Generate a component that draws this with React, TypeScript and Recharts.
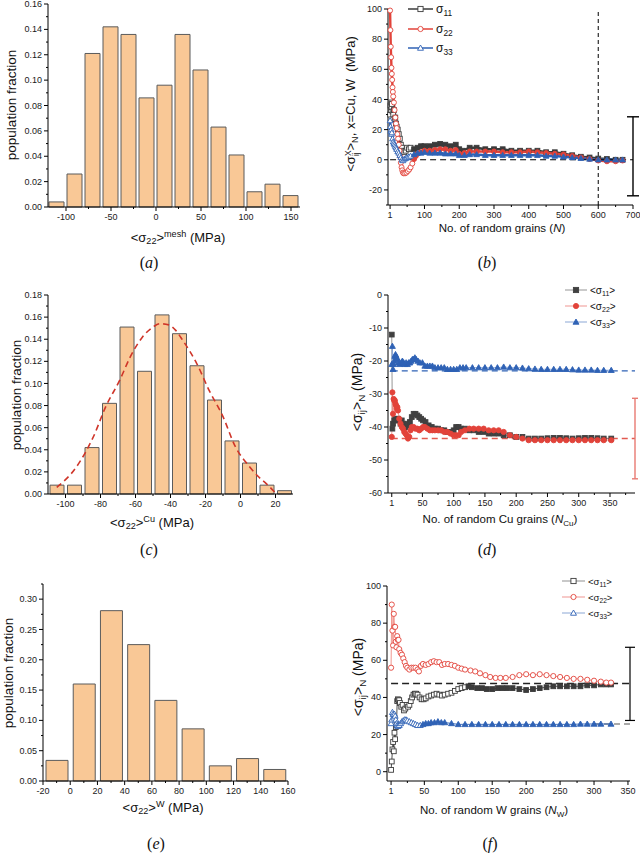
import React from 'react';
import {
  ComposedChart, Bar, Line, XAxis, YAxis, ReferenceLine, Scatter, ErrorBar,
} from 'recharts';

const SANS = '"Liberation Sans", Arial, sans-serif';
const SERIF = '"Liberation Serif", "Times New Roman", serif';
const BAR_FILL = '#f9c896';
const BAR_EDGE = '#5b5b5b';
const C11 = '#3b3b3b';
const C22 = '#e2433a';
const C33 = '#2f62b5';

// ---- (a) histogram of <s22>^mesh
const binsA = [-110, -90, -70, -50, -30, -10, 10, 30, 50, 70, 90, 110, 130, 150];
const fracA = [0.004, 0.026, 0.121, 0.142, 0.136, 0.086, 0.096, 0.136, 0.108, 0.063, 0.041, 0.012, 0.018, 0.009];
const xTicksA = [-100, -50, 0, 50, 100, 150];
const xMinorA = [-75, -25, 25, 75, 125];
const yTicksA = [0, 0.02, 0.04, 0.06, 0.08, 0.1, 0.12, 0.14, 0.16];
const yMinorA = [0.01, 0.03, 0.05, 0.07, 0.09, 0.11, 0.13, 0.15];

// ---- (c) histogram of <s22>^Cu with fitted curve
const binsC = [-105, -95, -85, -75, -65, -55, -45, -35, -25, -15, -5, 5, 15, 25];
const fracC = [0.008, 0.008, 0.042, 0.082, 0.151, 0.111, 0.162, 0.145, 0.116, 0.085, 0.048, 0.028, 0.008, 0.003];
const fitXC = [-105, -94, -84, -77, -69, -63, -56, -50, -46, -41, -37, -33, -25, -18, -10, -3, 5, 10, 15, 20];
const fitYC = [0.006, 0.024, 0.052, 0.079, 0.103, 0.124, 0.142, 0.151, 0.154, 0.153, 0.148, 0.139, 0.118, 0.094, 0.07, 0.043, 0.025, 0.016, 0.009, 0.001];
const xTicksC = [-100, -80, -60, -40, -20, 0, 20];
const xMinorC = [-90, -70, -50, -30, -10, 10];
const yTicksC = [0, 0.02, 0.04, 0.06, 0.08, 0.1, 0.12, 0.14, 0.16, 0.18];
const yMinorC = [0.01, 0.03, 0.05, 0.07, 0.09, 0.11, 0.13, 0.15, 0.17];

// ---- (e) histogram of <s22>^W
const binsE = [-10, 10, 30, 50, 70, 90, 110, 130, 150];
const fracE = [0.034, 0.16, 0.281, 0.225, 0.133, 0.086, 0.025, 0.037, 0.019];
const xTicksE = [-20, 0, 20, 40, 60, 80, 100, 120, 140, 160];
const xMinorE = [-10, 10, 30, 50, 70, 90, 110, 130, 150];
const yTicksE = [0, 0.05, 0.1, 0.15, 0.2, 0.25, 0.3];
const yMinorE = [0.025, 0.075, 0.125, 0.175, 0.225, 0.275, 0.325];

// ---- (b) running averages vs number of random grains
const bN11 = [1, 2, 3, 4, 5, 6, 8, 10, 12, 14, 16, 18, 20, 23, 26, 29, 32, 35, 38, 42, 46, 50, 55, 60, 70, 80, 90, 100, 115, 130, 145, 160, 175, 190, 200, 210, 230, 250, 275, 300, 325, 350, 375, 400, 425, 450, 475, 500, 525, 550, 575, 600, 625, 650, 670];
const bV11 = [30, 36, 33, 38, 35, 37, 32, 30, 33, 27, 28, 24, 22, 20, 17, 14, 10, 8, 6, 5, 6, 8, 7, 8, 7, 8, 9, 9, 9, 10, 10.5, 10, 9, 10, 7, 6, 8, 8, 7, 7, 7, 6, 6, 6, 6, 5, 5, 4, 3, 2, 1.5, 0.8, 0.5, 0, 0];
const bN22 = [1, 2, 3, 4, 5, 6, 7, 8, 9, 10, 12, 14, 16, 18, 20, 22, 24, 26, 28, 30, 32, 34, 36, 38, 40, 44, 48, 52, 56, 60, 65, 70, 75, 80, 90, 100, 115, 130, 145, 160, 175, 190, 200, 215, 230, 250, 275, 300, 325, 350, 375, 400, 425, 450, 475, 500, 525, 550, 575, 600, 625, 650, 670];
const bV22 = [99, 86, 75, 68, 61, 57, 53, 48, 45, 42, 38, 33, 28, 24, 21, 17, 14, 10, 6, 2, -2, -5, -7, -8.5, -9, -9, -8.5, -7.5, -6.5, -5, -2.5, 0.5, 2.5, 4, 5, 6, 6, 6.5, 7, 7, 6, 6.5, 4, 4.5, 5.5, 5.5, 5.5, 5.5, 5, 5, 5, 5.5, 5, 4.5, 4, 3.5, 2.5, 1.5, 0.5, -0.5, -1, -1, -0.5];
const bN33 = [1, 2, 3, 4, 5, 6, 8, 10, 12, 14, 16, 18, 20, 23, 26, 29, 32, 35, 38, 42, 46, 50, 55, 60, 70, 80, 90, 100, 115, 130, 145, 160, 175, 190, 200, 215, 230, 250, 275, 300, 325, 350, 375, 400, 425, 450, 475, 500, 525, 550, 575, 600, 625, 650, 670];
const bV33 = [26, 22, 19, 20, 17, 18, 14, 12, 11, 10, 9, 8, 7, 5.5, 4.5, 3, 1.5, 0, -0.5, 0.5, 1, 1.5, 2, 2.5, 3.5, 4.5, 4.5, 5, 4.5, 4.5, 4.5, 4, 4, 4, 3, 3, 3.5, 3.5, 3, 3, 3, 3, 3, 3, 3, 2.5, 2.5, 2, 1.5, 1, 0.5, 0, 0, 0, 0];
const xTicksB = [1, 100, 200, 300, 400, 500, 600, 700];
const xMinorB = [50, 150, 250, 350, 450, 550, 650];
const yTicksB = [-20, 0, 20, 40, 60, 80, 100];
const yMinorB = [-30, -10, 10, 30, 50, 70, 90];
const cutoffB = 600;
const zeroB = 0;
const errB = [{ n: 700, v: 2.3, e: 26.2 }];

// ---- (d) Cu grains
const dN11 = [1, 2, 3, 5, 7, 9, 11, 13, 15, 17, 19, 21, 23, 25, 27, 30, 33, 36, 39, 42, 45, 48, 51, 55, 60, 65, 70, 75, 80, 85, 90, 95, 100, 104, 108, 112, 118, 125, 132, 140, 148, 156, 164, 172, 180, 190, 200, 210, 220, 230, 240, 250, 260, 270, 280, 290, 300, 310, 320, 330, 340, 352];
const dV11 = [-12, -40.5, -39, -38, -37.5, -38, -37.5, -38, -39, -38, -39, -40, -40, -39.5, -39, -38.5, -37, -36, -36, -36.5, -37, -37.5, -38, -38.5, -39.5, -40, -40.5, -40.5, -41, -41, -41.5, -41.5, -41, -40, -40, -40.5, -40.5, -41, -41, -41.5, -41.5, -42, -42, -42, -42.5, -42.5, -43, -43, -43.5, -43.5, -43.5, -43.4, -43.3, -43.3, -43.4, -43.5, -43.4, -43.3, -43.3, -43.4, -43.5, -43.5];
const dN22 = [1, 2, 3, 4, 5, 6, 7, 8, 9, 10, 11, 13, 15, 17, 19, 21, 23, 25, 27, 29, 31, 33, 36, 39, 42, 45, 48, 51, 54, 58, 62, 66, 70, 75, 80, 85, 90, 95, 100, 104, 108, 112, 118, 125, 132, 140, 148, 156, 164, 172, 180, 190, 200, 210, 220, 230, 240, 250, 260, 270, 280, 290, 300, 310, 320, 330, 340, 352];
const dV22 = [-43, -29.5, -36, -31.5, -32, -32, -33, -33.5, -34.5, -34, -35, -37.5, -39, -40, -40.5, -41.5, -42, -42.5, -43.5, -43, -41, -40, -40, -40.5, -40.5, -41, -40.5, -40, -40, -40.5, -41, -41, -41, -41, -41, -41.5, -41.5, -42, -42.5, -42.5, -42.5, -41.5, -41, -40.5, -40.5, -40.5, -40.5, -41, -41, -41, -41.5, -42.5, -43, -43.5, -44, -44, -44, -44, -44, -44, -44, -44, -44, -44, -44, -44, -44, -44];
const dN33 = [1, 2, 3, 4, 5, 6, 7, 8, 9, 10, 12, 14, 16, 18, 20, 22, 24, 26, 28, 30, 32, 34, 36, 38, 40, 43, 46, 50, 54, 58, 62, 66, 70, 75, 80, 85, 90, 95, 100, 105, 110, 115, 120, 130, 140, 150, 160, 170, 180, 190, 200, 210, 220, 230, 240, 250, 260, 270, 280, 290, 300, 310, 320, 330, 340, 352];
const dV33 = [-21, -15.5, -22.5, -21, -20, -18.5, -18, -18.5, -19, -19.5, -20.5, -21, -20.5, -20, -20.5, -21, -20.5, -21, -20.5, -20.5, -20, -19.5, -19.5, -19, -19.5, -20, -20.5, -20.5, -21.5, -21.5, -21.5, -21.5, -22, -22, -22, -22, -22.5, -22.5, -22.5, -22.5, -22, -22, -22, -22, -22, -22, -22, -22, -21.8, -22, -22, -22.1, -22.3, -22.4, -22.5, -22.5, -22.5, -22.5, -22.5, -22.6, -22.7, -22.7, -22.7, -22.8, -22.8, -22.8];
const xTicksD = [1, 50, 100, 150, 200, 250, 300, 350];
const xMinorD = [25, 75, 125, 175, 225, 275, 325, 375];
const yTicksD = [-60, -50, -40, -30, -20, -10, 0];
const yMinorD = [-55, -45, -35, -25, -15, -5];
const mean33D = -23;
const mean22D = -43.5;
const errD = [{ n: 390, v: -43.5, e: 12.2 }];

// ---- (f) W grains
const fN11 = [1, 2, 3, 4, 5, 6, 7, 8, 9, 10, 11, 12, 13, 14, 16, 18, 20, 22, 24, 26, 28, 30, 32, 34, 36, 38, 40, 43, 46, 49, 52, 56, 60, 64, 68, 72, 76, 80, 85, 90, 95, 100, 105, 110, 115, 120, 128, 135, 142, 150, 158, 165, 172, 180, 190, 200, 210, 220, 230, 240, 250, 260, 270, 280, 290, 300, 310, 318, 325];
const fV11 = [1, 5.5, 12, 16, 11, 21, 17.5, 24, 25, 38, 39, 38.5, 38.5, 37, 35, 36, 33, 34, 36, 35, 36, 38, 40, 41.5, 42, 42, 41.5, 40, 39, 39, 39.5, 40.5, 41, 41.5, 42, 41.5, 41, 41.5, 42, 42.5, 43.5, 44.5, 45, 45.5, 46, 45.5, 45, 45, 44.5, 44.5, 45, 45, 45, 45, 44.5, 44, 44.5, 45, 45.5, 46, 46, 46, 46, 46, 46.5, 46.5, 47, 47, 47];
const fN22 = [1, 2, 3, 4, 5, 6, 7, 8, 9, 10, 11, 12, 13, 15, 17, 19, 21, 23, 25, 28, 31, 34, 37, 40, 42, 45, 48, 52, 56, 60, 64, 68, 72, 76, 80, 85, 90, 95, 100, 105, 110, 118, 125, 132, 140, 147, 155, 162, 170, 180, 190, 200, 210, 220, 230, 240, 250, 260, 270, 280, 290, 300, 310, 318, 325];
const fV22 = [56, 90, 76, 68, 85, 78, 78, 70, 67, 73, 71, 71, 66, 64, 63, 61, 59, 57, 56, 55, 56, 56, 56, 55, 54, 57, 58, 57.5, 58, 59, 59.5, 59, 59, 57.5, 58, 58, 57.5, 57, 56, 55.5, 55, 54.5, 54, 53, 52, 51, 50.5, 50.5, 50.5, 51, 52, 52.5, 52, 52.5, 52, 51.5, 51, 50.5, 50, 50, 49.5, 49, 48.5, 48, 48];
const fN33 = [1, 2, 3, 4, 5, 6, 7, 8, 9, 10, 11, 13, 15, 17, 19, 21, 23, 25, 28, 31, 34, 37, 40, 44, 48, 52, 56, 60, 65, 70, 75, 80, 90, 100, 110, 120, 130, 140, 150, 160, 170, 180, 190, 200, 210, 220, 230, 240, 250, 260, 270, 280, 290, 300, 310, 325];
const fV33 = [26, 28, 32, 31, 29, 31, 30, 28, 26, 25, 24.5, 25, 26, 27, 27.5, 28, 28, 27.5, 27, 26.5, 26, 25.5, 25, 25, 25.5, 26, 26, 26.5, 26.5, 27, 26.5, 26.5, 26, 25.5, 25.5, 25.5, 25.5, 25.5, 25.5, 25.5, 25.5, 25.5, 25.5, 25.5, 25.5, 25.5, 25.5, 25.5, 25.5, 25.5, 25.5, 25.7, 25.7, 25.7, 25.7, 25.7];
const xTicksF = [1, 50, 100, 150, 200, 250, 300, 350];
const xMinorF = [25, 75, 125, 175, 225, 275, 325];
const yTicksF = [0, 20, 40, 60, 80, 100];
const yMinorF = [10, 30, 50, 70, 90];
const mean11F = 47.5;
const mean33F = 25.7;
const errF = [{ n: 353, v: 47.3, e: 19.7 }];

// tables for recharts
const hist = (xs: number[], fs: number[]) => xs.map((x, i) => ({ x, f: fs[i] }));
const pts = (ns: number[], vs: number[]) => ns.map((n, i) => ({ n, v: vs[i] }));
const tableA = hist(binsA, fracA);
const tableC = hist(binsC, fracC);
const fitC = fitXC.map((x, i) => ({ x, g: fitYC[i] }));
const tableE = hist(binsE, fracE);
const sorted = (a: number[], b: number[]) => [...a, ...b].sort((p, q) => p - q);
const f2 = (v: number) => v.toFixed(2);

function mkTick(side: 'left' | 'bottom', majors: number[], fmt: (v: number) => string = String) {
  return (p: any) => {
    const v = Number(p.payload.value);
    const major = majors.some((m) => Math.abs(m - v) < 1e-9);
    const len = major ? 4 : 2;
    if (side === 'left') {
      const ax = p.x + 6;
      return (
        <g>
          <line x1={ax - len} y1={p.y} x2={ax} y2={p.y} stroke="#000" strokeWidth={1} />
          {major && (
            <text x={p.x} y={p.y} dy="0.34em" textAnchor="end" fontSize={9} fontFamily={SANS} fill="#1a1a1a">
              {fmt(v)}
            </text>
          )}
        </g>
      );
    }
    const ay = p.y - 6;
    return (
      <g>
        <line x1={p.x} y1={ay} x2={p.x} y2={ay + len} stroke="#000" strokeWidth={1} />
        {major && (
          <text x={p.x} y={p.y} dy="0.75em" textAnchor="middle" fontSize={9} fontFamily={SANS} fill="#1a1a1a">
            {fmt(v)}
          </text>
        )}
      </g>
    );
  };
}

const axisCommon = {
  tickLine: false,
  tickSize: 4,
  tickMargin: 2,
  interval: 0 as const,
  axisLine: { stroke: '#000', strokeWidth: 1 },
};

const svgStyle = { overflow: 'visible' as const };

function markerEl(shape: string, cx: number, cy: number, s: number, color: string, fill: string, key?: any) {
  if (shape === 'square')
    return <rect key={key} x={cx - s} y={cy - s} width={2 * s} height={2 * s} fill={fill} stroke={color} strokeWidth={0.9} />;
  if (shape === 'circle')
    return <circle key={key} cx={cx} cy={cy} r={s} fill={fill} stroke={color} strokeWidth={0.9} />;
  const h = s * 1.15;
  return (
    <polygon key={key} points={`${cx},${cy - h} ${cx - h},${cy + h * 0.75} ${cx + h},${cy + h * 0.75}`}
      fill={fill} stroke={color} strokeWidth={0.9} />
  );
}

function dotFn(shape: string, color: string, s: number, solidFrom: number) {
  return (p: any) => {
    if (p.cx == null || p.cy == null) return <g key={p.index} />;
    const solid = p.payload && p.payload.n >= solidFrom;
    return markerEl(shape, p.cx, p.cy, s, color, solid ? color : '#fff', p.index);
  };
}

const hidden = () => <g />;

const Sub = ({ children }: any) => (
  <span style={{ fontSize: '0.7em', verticalAlign: '-0.3em', lineHeight: 0 }}>{children}</span>
);
const Sup = ({ children }: any) => (
  <span style={{ fontSize: '0.7em', verticalAlign: '0.55em', lineHeight: 0 }}>{children}</span>
);

function Txt({ x, y, size = 12, rotate = false, serif = false, children }: any) {
  return (
    <div
      style={{
        position: 'absolute', left: x, top: y,
        transform: `translate(-50%, -50%)${rotate ? ' rotate(-90deg)' : ''}`,
        whiteSpace: 'nowrap', fontSize: size, fontFamily: serif ? SERIF : SANS,
        color: '#111', lineHeight: 1,
      }}
    >
      {children}
    </div>
  );
}

function LegendRow({ x, y, w, shape, color, solid, thin, size, children }: any) {
  return (
    <div style={{ position: 'absolute', left: x, top: y - 6, height: 12, display: 'flex', alignItems: 'center', whiteSpace: 'nowrap', fontFamily: SANS, fontSize: size, color: '#111' }}>
      <svg width={w} height={12} style={{ display: 'block' }}>
        <line x1={0} x2={w} y1={6} y2={6} stroke={color} strokeWidth={thin ? 0.8 : 1.5} strokeOpacity={thin ? 0.7 : 1} />
        {markerEl(shape, w / 2, 6, 2.6, color, solid ? color : '#fff')}
      </svg>
      <span style={{ marginLeft: 3 }}>{children}</span>
    </div>
  );
}

const Avg = ({ k }: any) => (
  <>
    {'<'}σ<Sub>{k}</Sub>{'>'}
  </>
);

function Box({ left, top, children }: any) {
  return <div style={{ position: 'absolute', left, top }}>{children}</div>;
}

export default function App() {
  return (
    <div style={{ position: 'absolute', left: 0, top: 0, width: 640, height: 854, background: '#fff', overflow: 'hidden' }}>
      {/* (a) */}
      <Box left={0} top={0}>
        <ComposedChart width={310} height={222} data={tableA} style={svgStyle} margin={{ top: 4, right: 10, bottom: 0, left: 0 }}>
          <XAxis dataKey="x" type="number" domain={[-120, 160]} ticks={sorted(xTicksA, xMinorA)} tick={mkTick('bottom', xTicksA)} height={15} {...axisCommon} />
          <YAxis type="number" domain={[0, 0.16]} ticks={sorted(yTicksA, yMinorA)} tick={mkTick('left', yTicksA, f2)} width={48} {...axisCommon} />
          <Bar dataKey="f" barSize={15} fill={BAR_FILL} stroke={BAR_EDGE} strokeWidth={1} isAnimationActive={false} />
        </ComposedChart>
      </Box>
      <Txt x={12} y={105} size={13.5} rotate>population fraction</Txt>
      <Txt x={178} y={237} size={13}>{'<'}σ<Sub>22</Sub>{'>'}<Sup>mesh</Sup> (MPa)</Txt>
      <Txt x={149} y={263} size={16} serif>(<i>a</i>)</Txt>

      {/* (b) */}
      <Box left={340} top={0}>
        <ComposedChart width={300} height={220} style={svgStyle} margin={{ top: 9, right: 7, bottom: 0, left: 0 }}>
          <XAxis dataKey="n" type="number" domain={[-5, 700]} ticks={sorted(xTicksB, xMinorB)} tick={mkTick('bottom', xTicksB)} height={15} {...axisCommon} />
          <YAxis type="number" domain={[-30, 100]} ticks={sorted(yTicksB, yMinorB)} tick={mkTick('left', yTicksB)} width={48} {...axisCommon} />
          <Line data={pts(bN11, bV11)} dataKey="v" stroke={C11} strokeWidth={2.4} dot={dotFn('square', C11, 2.4, 70)} activeDot={false} isAnimationActive={false} />
          <Line data={pts(bN22, bV22)} dataKey="v" stroke={C22} strokeWidth={2.4} dot={dotFn('circle', C22, 2.5, 70)} activeDot={false} isAnimationActive={false} />
          <Line data={pts(bN33, bV33)} dataKey="v" stroke={C33} strokeWidth={2.4} dot={dotFn('triangle', C33, 2.5, 70)} activeDot={false} isAnimationActive={false} />
          <ReferenceLine segment={[{ x: 1, y: zeroB }, { x: 700, y: zeroB }]} stroke="#000" strokeWidth={1.2} strokeDasharray="6 4" />
          <ReferenceLine x={cutoffB} stroke="#000" strokeWidth={1} strokeDasharray="4 3" />
          <Scatter data={errB} dataKey="v" shape={hidden} isAnimationActive={false}>
            <ErrorBar dataKey="e" direction="y" width={6} stroke="#000" strokeWidth={1.4} />
          </Scatter>
        </ComposedChart>
      </Box>
      <LegendRow x={408} y={9} w={25} shape="square" color={C11} size={12}>σ<Sub>11</Sub></LegendRow>
      <LegendRow x={408} y={29} w={25} shape="circle" color={C22} size={12}>σ<Sub>22</Sub></LegendRow>
      <LegendRow x={408} y={48} w={25} shape="triangle" color={C33} size={12}>σ<Sub>33</Sub></LegendRow>
      <Txt x={352} y={104} size={13} rotate>
        {'<'}σ
        <span style={{ display: 'inline-flex', flexDirection: 'column', fontSize: '0.65em', lineHeight: 1, verticalAlign: 'middle' }}>
          <span>X</span><span>ij</span>
        </span>
        {'>'}<Sub>N</Sub>, x=Cu, W&nbsp; (MPa)
      </Txt>
      <Txt x={502} y={229} size={11.5}>No. of random grains (<i>N</i>)</Txt>
      <Txt x={487} y={263} size={16} serif>(<i>b</i>)</Txt>

      {/* (c) */}
      <Box left={0} top={285}>
        <ComposedChart width={310} height={224} data={tableC} style={svgStyle} margin={{ top: 10, right: 17, bottom: 0, left: 0 }}>
          <XAxis dataKey="x" type="number" domain={[-110, 30]} ticks={sorted(xTicksC, xMinorC)} tick={mkTick('bottom', xTicksC)} height={15} {...axisCommon} />
          <XAxis xAxisId="fit" dataKey="x" type="number" domain={[-110, 30]} hide allowDataOverflow />
          <YAxis type="number" domain={[0, 0.18]} ticks={sorted(yTicksC, yMinorC)} tick={mkTick('left', yTicksC, f2)} width={48} {...axisCommon} />
          <Bar dataKey="f" barSize={14} fill={BAR_FILL} stroke={BAR_EDGE} strokeWidth={1} isAnimationActive={false} />
          <Line xAxisId="fit" data={fitC} dataKey="g" type="monotone" stroke="#cf3529" strokeWidth={1.6} strokeDasharray="6 4" dot={false} activeDot={false} isAnimationActive={false} />
        </ComposedChart>
      </Box>
      <Txt x={17} y={395} size={13.5} rotate>population fraction</Txt>
      <Txt x={152} y={522} size={13}>{'<'}σ<Sub>22</Sub>{'>'}<Sup>Cu</Sup> (MPa)</Txt>
      <Txt x={149} y={550} size={16} serif>(<i>c</i>)</Txt>

      {/* (d) */}
      <Box left={340} top={285}>
        <ComposedChart width={300} height={223} style={svgStyle} margin={{ top: 10, right: 5, bottom: 0, left: 0 }}>
          <XAxis dataKey="n" type="number" domain={[-5, 390]} ticks={sorted(xTicksD, xMinorD)} tick={mkTick('bottom', xTicksD)} height={15} {...axisCommon} />
          <YAxis type="number" domain={[-60, 0]} ticks={sorted(yTicksD, yMinorD)} tick={mkTick('left', yTicksD)} width={48} {...axisCommon} />
          <ReferenceLine segment={[{ x: 1, y: mean33D }, { x: 390, y: mean33D }]} stroke={C33} strokeWidth={1.4} strokeDasharray="6 4" />
          <ReferenceLine segment={[{ x: 1, y: mean22D }, { x: 390, y: mean22D }]} stroke="#e25a50" strokeWidth={1.4} strokeDasharray="6 4" />
          <Line data={pts(dN11, dV11)} dataKey="v" stroke="#7a7a7a" strokeWidth={0.8} dot={dotFn('square', '#404040', 2.4, 0)} activeDot={false} isAnimationActive={false} />
          <Line data={pts(dN22, dV22)} dataKey="v" stroke="#ee8a82" strokeWidth={0.8} dot={dotFn('circle', C22, 2.6, 0)} activeDot={false} isAnimationActive={false} />
          <Line data={pts(dN33, dV33)} dataKey="v" stroke="#7f9fd6" strokeWidth={0.8} dot={dotFn('triangle', C33, 2.6, 0)} activeDot={false} isAnimationActive={false} />
          <Scatter data={errD} dataKey="v" shape={hidden} isAnimationActive={false}>
            <ErrorBar dataKey="e" direction="y" width={3} stroke="#e87a72" strokeWidth={1.4} />
          </Scatter>
        </ComposedChart>
      </Box>
      <LegendRow x={565} y={290} w={22} shape="square" color="#404040" solid thin size={10}><Avg k="11" /></LegendRow>
      <LegendRow x={565} y={306} w={22} shape="circle" color={C22} solid thin size={10}><Avg k="22" /></LegendRow>
      <LegendRow x={565} y={322} w={22} shape="triangle" color={C33} solid thin size={10}><Avg k="33" /></LegendRow>
      <Txt x={357} y={392} size={14} rotate>{'<'}σ<Sub>ij</Sub>{'>'}<Sub>N</Sub> (MPa)</Txt>
      <Txt x={500} y={520} size={11.5}>No. of random Cu grains (<i>N</i><Sub>Cu</Sub>)</Txt>
      <Txt x={487} y={550} size={16} serif>(<i>d</i>)</Txt>

      {/* (e) */}
      <Box left={0} top={570}>
        <ComposedChart width={300} height={226} data={tableE} style={svgStyle} margin={{ top: 14, right: 12, bottom: 0, left: 0 }}>
          <XAxis dataKey="x" type="number" domain={[-20, 160]} ticks={sorted(xTicksE, xMinorE)} tick={mkTick('bottom', xTicksE)} height={15} {...axisCommon} />
          <YAxis type="number" domain={[0, 0.325]} ticks={sorted(yTicksE, yMinorE)} tick={mkTick('left', yTicksE, f2)} width={43} {...axisCommon} />
          <Bar dataKey="f" barSize={22} fill={BAR_FILL} stroke={BAR_EDGE} strokeWidth={1} isAnimationActive={false} />
        </ComposedChart>
      </Box>
      <Txt x={9} y={673} size={13.5} rotate>population fraction</Txt>
      <Txt x={163} y={807} size={13}>{'<'}σ<Sub>22</Sub>{'>'}<Sup>W</Sup> (MPa)</Txt>
      <Txt x={156} y={844} size={16} serif>(<i>e</i>)</Txt>

      {/* (f) */}
      <Box left={340} top={570}>
        <ComposedChart width={300} height={226} style={svgStyle} margin={{ top: 16, right: 10, bottom: 0, left: 0 }}>
          <XAxis dataKey="n" type="number" domain={[-5, 353]} ticks={sorted(xTicksF, xMinorF)} tick={mkTick('bottom', xTicksF)} height={15} {...axisCommon} />
          <YAxis type="number" domain={[-5, 100]} ticks={sorted(yTicksF, yMinorF)} tick={mkTick('left', yTicksF)} width={47} {...axisCommon} />
          <ReferenceLine segment={[{ x: 1, y: mean11F }, { x: 353, y: mean11F }]} stroke="#222" strokeWidth={1.4} strokeDasharray="7 4" />
          <ReferenceLine segment={[{ x: 300, y: mean33F }, { x: 353, y: mean33F }]} stroke="#555" strokeWidth={1.2} strokeDasharray="6 4" />
          <Line data={pts(fN11, fV11)} dataKey="v" stroke={C11} strokeWidth={0.9} dot={dotFn('square', C11, 2.4, 115)} activeDot={false} isAnimationActive={false} />
          <Line data={pts(fN22, fV22)} dataKey="v" stroke="#ee8a82" strokeWidth={0.9} dot={dotFn('circle', C22, 2.6, 10000)} activeDot={false} isAnimationActive={false} />
          <Line data={pts(fN33, fV33)} dataKey="v" stroke={C33} strokeWidth={0.9} dot={dotFn('triangle', C33, 2.6, 45)} activeDot={false} isAnimationActive={false} />
          <Scatter data={errF} dataKey="v" shape={hidden} isAnimationActive={false}>
            <ErrorBar dataKey="e" direction="y" width={5} stroke="#000" strokeWidth={1.2} />
          </Scatter>
        </ComposedChart>
      </Box>
      <LegendRow x={562} y={581} w={23} shape="square" color={C11} thin size={9.5}><Avg k="11" /></LegendRow>
      <LegendRow x={562} y={597} w={23} shape="circle" color={C22} thin size={9.5}><Avg k="22" /></LegendRow>
      <LegendRow x={562} y={613} w={23} shape="triangle" color={C33} thin size={9.5}><Avg k="33" /></LegendRow>
      <Txt x={358} y={677} size={14} rotate>{'<'}σ<Sub>ij</Sub>{'>'}<Sub>N</Sub> (MPa)</Txt>
      <Txt x={494} y={811} size={11.5}>No. of random W grains (<i>N</i><Sub>W</Sub>)</Txt>
      <Txt x={490} y={844} size={16} serif>(<i>f</i>)</Txt>
    </div>
  );
}
